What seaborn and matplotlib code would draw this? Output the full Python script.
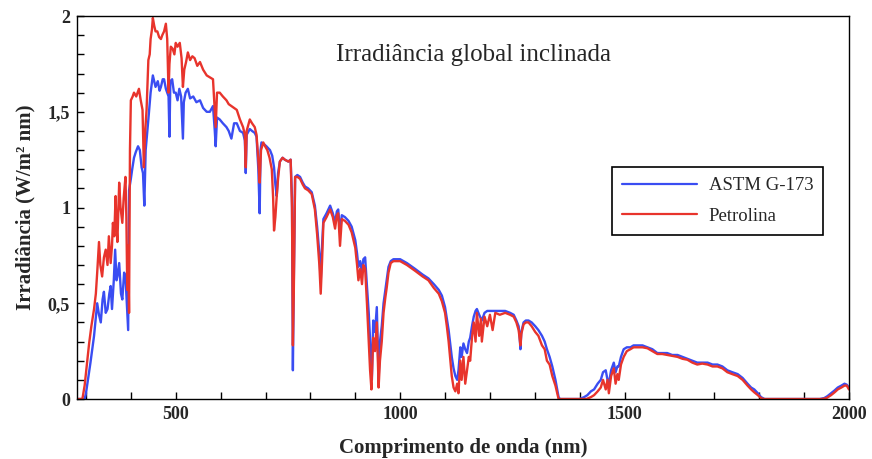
import matplotlib
matplotlib.use("Agg")
import matplotlib.pyplot as plt
import seaborn as sns
import pandas as pd
from matplotlib.ticker import MultipleLocator, FuncFormatter
from matplotlib.lines import Line2D

# ---------------- data (wavelength nm, irradiance W/m2 nm) ----------------
astm_points = [
    (280, 0), (297, 0), (300, 0.03), (310, 0.19), (318, 0.33), (325, 0.50), (329, 0.44), (333, 0.40),
    (337, 0.52), (340, 0.56), (344, 0.45), (348, 0.47), (352, 0.55), (355, 0.59), (358, 0.47), (362, 0.62),
    (365, 0.78), (368, 0.62), (370, 0.64), (374, 0.71), (378, 0.55), (381, 0.52), (385, 0.66), (388, 0.64),
    (392, 0.45), (394, 0.36), (396, 1.09), (400, 1.15), (403, 1.20), (407, 1.26), (411, 1.29), (416, 1.32),
    (420, 1.30), (424, 1.21), (427, 1.18), (430, 1.01), (433, 1.30), (436, 1.38), (439, 1.46), (444, 1.60),
    (449, 1.69), (452, 1.66), (455, 1.63), (460, 1.66), (464, 1.61), (467, 1.63), (471, 1.67), (474, 1.67),
    (478, 1.62), (481, 1.60), (484, 1.58), (486, 1.37), (488, 1.66), (492, 1.67), (496, 1.60), (500, 1.60),
    (504, 1.56), (508, 1.62), (512, 1.58), (516, 1.36), (518, 1.55), (522, 1.60), (527, 1.62), (532, 1.57),
    (539, 1.58), (546, 1.55), (554, 1.56), (561, 1.52), (569, 1.50), (576, 1.50), (583, 1.53), (587, 1.40),
    (589, 1.32), (592, 1.47), (598, 1.46), (605, 1.44), (613, 1.42), (618, 1.40), (624, 1.36), (630, 1.44),
    (636, 1.44), (643, 1.40), (650, 1.39), (654, 1.35), (656, 1.18), (658, 1.38), (665, 1.41), (670, 1.40),
    (676, 1.39), (680, 1.37), (684, 1.20), (687, 0.97), (689, 1.30), (691, 1.34), (697, 1.33), (702, 1.32),
    (710, 1.30), (715, 1.27), (719, 1.21), (722, 1.12), (725, 1.06), (728, 1.18), (732, 1.24), (738, 1.26),
    (743, 1.25), (751, 1.24), (756, 1.25), (759, 1.05), (761, 0.15), (763, 0.60), (766, 1.16), (771, 1.17),
    (777, 1.16), (783, 1.13), (788, 1.11), (795, 1.10), (803, 1.08), (810, 1.01), (815, 0.90), (820, 0.76),
    (823, 0.61), (826, 0.80), (829, 0.94), (836, 0.97), (844, 1.01), (850, 0.97), (855, 0.92), (859, 0.98),
    (862, 0.99), (866, 0.87), (870, 0.96), (877, 0.95), (885, 0.93), (892, 0.90), (900, 0.83), (904, 0.76),
    (907, 0.69), (911, 0.72), (915, 0.66), (918, 0.73), (922, 0.74), (926, 0.59), (930, 0.45), (933, 0.31),
    (937, 0.10), (940, 0.41), (944, 0.35), (948, 0.48), (952, 0.10), (955, 0.30), (959, 0.38), (963, 0.50),
    (967, 0.57), (970, 0.62), (974, 0.69), (979, 0.72), (985, 0.73), (1000, 0.73), (1015, 0.71), (1033, 0.68),
    (1050, 0.65), (1063, 0.63), (1075, 0.60), (1086, 0.57), (1093, 0.54), (1100, 0.48), (1104, 0.42),
    (1108, 0.36), (1112, 0.28), (1115, 0.22), (1119, 0.16), (1123, 0.12), (1127, 0.10), (1130, 0.15),
    (1134, 0.27), (1137, 0.22), (1141, 0.29), (1145, 0.26), (1149, 0.24), (1153, 0.30), (1156, 0.32),
    (1160, 0.38), (1164, 0.43), (1168, 0.46), (1171, 0.47), (1176, 0.44), (1182, 0.41), (1188, 0.45),
    (1194, 0.46), (1203, 0.46), (1212, 0.46), (1222, 0.46), (1234, 0.46), (1245, 0.45), (1253, 0.44),
    (1259, 0.41), (1264, 0.38), (1266, 0.33), (1268, 0.26), (1270, 0.35), (1275, 0.40), (1280, 0.41),
    (1286, 0.41), (1293, 0.40), (1301, 0.38), (1308, 0.36), (1316, 0.33), (1322, 0.30), (1327, 0.26),
    (1333, 0.22), (1339, 0.17), (1346, 0.10), (1350, 0.05), (1353, 0.01), (1356, 0), (1400, 0), (1410, 0.01),
    (1417, 0.02), (1425, 0.04), (1432, 0.05), (1440, 0.08), (1447, 0.10), (1452, 0.14), (1458, 0.15),
    (1462, 0.10), (1465, 0.08), (1470, 0.15), (1476, 0.19), (1480, 0.14), (1484, 0.17), (1487, 0.17),
    (1492, 0.22), (1498, 0.26), (1505, 0.27), (1513, 0.27), (1520, 0.28), (1528, 0.28), (1540, 0.28),
    (1551, 0.27), (1562, 0.26), (1573, 0.24), (1584, 0.24), (1595, 0.24), (1606, 0.23), (1618, 0.23),
    (1629, 0.22), (1640, 0.21), (1651, 0.20), (1662, 0.19), (1673, 0.19), (1685, 0.19), (1696, 0.18),
    (1707, 0.18), (1718, 0.17), (1729, 0.15), (1740, 0.14), (1752, 0.13), (1763, 0.11), (1774, 0.08),
    (1782, 0.06), (1789, 0.05), (1797, 0.03), (1804, 0.01), (1812, 0), (1935, 0), (1945, 0.005),
    (1952, 0.015), (1960, 0.03), (1968, 0.045), (1975, 0.06), (1983, 0.07), (1990, 0.08), (1995, 0.075),
    (2000, 0.06),
]

petrolina_points = [
    (280, 0), (292, 0), (297, 0.07), (302, 0.18), (307, 0.29), (312, 0.38), (318, 0.47), (322, 0.55),
    (325, 0.66), (329, 0.82), (332, 0.70), (336, 0.64), (340, 0.74), (344, 0.78), (348, 0.70), (351, 0.85),
    (355, 0.71), (358, 0.80), (360, 0.92), (363, 0.85), (366, 1.06), (368, 0.90), (370, 0.82), (372, 0.98),
    (374, 1.13), (377, 1.00), (381, 0.92), (384, 1.05), (388, 1.16), (390, 0.95), (392, 0.57), (394, 0.80),
    (396, 0.45), (398, 1.30), (400, 1.56), (404, 1.58), (407, 1.60), (412, 1.58), (418, 1.62), (422, 1.56),
    (426, 1.51), (429, 1.21), (432, 1.40), (435, 1.51), (439, 1.77), (442, 1.80), (444, 1.88), (447, 1.93),
    (449, 1.99), (452, 1.95), (455, 1.92), (459, 1.92), (463, 1.89), (467, 1.88), (470, 1.90), (474, 1.92),
    (478, 1.96), (481, 1.88), (484, 1.60), (486, 1.75), (489, 1.84), (493, 1.83), (497, 1.80), (500, 1.86),
    (504, 1.84), (509, 1.86), (513, 1.78), (516, 1.63), (519, 1.72), (523, 1.76), (527, 1.81), (532, 1.77),
    (537, 1.79), (542, 1.78), (548, 1.74), (554, 1.76), (561, 1.72), (569, 1.69), (576, 1.68), (583, 1.67),
    (587, 1.50), (589, 1.42), (592, 1.60), (598, 1.60), (605, 1.58), (613, 1.56), (618, 1.54), (624, 1.53),
    (630, 1.52), (636, 1.51), (643, 1.46), (650, 1.42), (654, 1.38), (656, 1.21), (658, 1.40), (665, 1.46),
    (670, 1.44), (676, 1.42), (680, 1.38), (684, 1.25), (687, 1.13), (690, 1.30), (695, 1.34), (699, 1.32),
    (704, 1.30), (709, 1.26), (714, 1.20), (717, 1.05), (719, 0.88), (722, 0.95), (725, 1.06), (728, 1.15),
    (732, 1.24), (738, 1.26), (743, 1.25), (751, 1.24), (756, 1.25), (759, 1.00), (761, 0.28), (763, 0.55),
    (766, 1.16), (771, 1.16), (777, 1.15), (783, 1.12), (788, 1.10), (795, 1.09), (803, 1.07), (810, 0.99),
    (815, 0.86), (820, 0.70), (823, 0.55), (826, 0.72), (829, 0.92), (836, 0.95), (844, 0.99), (850, 0.95),
    (855, 0.89), (859, 0.96), (862, 0.97), (866, 0.80), (870, 0.94), (877, 0.93), (885, 0.91), (892, 0.87),
    (900, 0.79), (904, 0.70), (907, 0.62), (911, 0.68), (915, 0.60), (918, 0.70), (922, 0.68), (926, 0.50),
    (930, 0.30), (933, 0.15), (936, 0.05), (940, 0.32), (944, 0.25), (948, 0.40), (952, 0.06), (955, 0.20),
    (959, 0.30), (963, 0.45), (967, 0.53), (970, 0.58), (974, 0.66), (979, 0.71), (985, 0.72), (1000, 0.72),
    (1015, 0.70), (1033, 0.67), (1050, 0.64), (1063, 0.62), (1075, 0.58), (1086, 0.55), (1093, 0.51),
    (1100, 0.45), (1104, 0.38), (1108, 0.30), (1112, 0.20), (1115, 0.12), (1119, 0.06), (1123, 0.04),
    (1127, 0.08), (1130, 0.03), (1134, 0.20), (1137, 0.10), (1141, 0.22), (1145, 0.08), (1149, 0.15),
    (1153, 0.22), (1156, 0.20), (1160, 0.32), (1164, 0.40), (1168, 0.30), (1171, 0.45), (1176, 0.33),
    (1180, 0.42), (1182, 0.30), (1188, 0.43), (1194, 0.38), (1200, 0.44), (1206, 0.36), (1212, 0.45),
    (1222, 0.44), (1234, 0.45), (1245, 0.44), (1253, 0.43), (1259, 0.40), (1264, 0.36), (1266, 0.32),
    (1268, 0.28), (1270, 0.34), (1275, 0.39), (1280, 0.40), (1286, 0.40), (1293, 0.38), (1301, 0.35),
    (1308, 0.33), (1316, 0.28), (1322, 0.26), (1327, 0.20), (1333, 0.18), (1339, 0.12), (1346, 0.07),
    (1350, 0.03), (1353, 0.0), (1400, 0), (1415, 0), (1425, 0.01), (1432, 0.02), (1440, 0.04), (1447, 0.06),
    (1452, 0.10), (1458, 0.05), (1462, 0.10), (1465, 0.03), (1470, 0.12), (1476, 0.16), (1480, 0.08),
    (1484, 0.13), (1487, 0.10), (1492, 0.18), (1498, 0.22), (1505, 0.25), (1513, 0.26), (1520, 0.27),
    (1528, 0.27), (1540, 0.27), (1551, 0.265), (1562, 0.25), (1573, 0.235), (1584, 0.235), (1595, 0.23),
    (1606, 0.225), (1618, 0.22), (1629, 0.21), (1640, 0.205), (1651, 0.19), (1662, 0.18), (1673, 0.185),
    (1685, 0.18), (1696, 0.17), (1707, 0.17), (1718, 0.16), (1729, 0.14), (1740, 0.13), (1752, 0.12),
    (1763, 0.10), (1774, 0.07), (1782, 0.05), (1789, 0.035), (1797, 0.02), (1804, 0.005), (1810, 0),
    (1940, 0), (1950, 0.005), (1960, 0.02), (1968, 0.035), (1975, 0.05), (1983, 0.06), (1990, 0.07),
    (1995, 0.07), (2000, 0.05),
]

series_names = ["ASTM G-173", "Petrolina"]
series_colors = ["#3a4df2", "#e8342c"]
x_major_labels = [500, 1000, 1500, 2000]
y_tick_labels = {0.0: "0", 0.5: "0,5", 1.0: "1", 1.5: "1,5", 2.0: "2"}

# ---------------- build table ----------------
frames = []
for name, pts in zip(series_names, [astm_points, petrolina_points]):
    d = pd.DataFrame(pts, columns=["nm", "irr"])
    d["serie"] = name
    frames.append(d)
df = pd.concat(frames, ignore_index=True)

sns.set_theme(style="ticks")
plt.rcParams["font.family"] = ["Liberation Serif", "DejaVu Serif"]
plt.rcParams["font.weight"] = "bold"

fig = plt.figure(figsize=(8.72, 4.59), dpi=100)
ax = fig.add_axes([0.0883, 0.1307, 0.8853, 0.8343])

sns.lineplot(data=df, x="nm", y="irr", hue="serie", hue_order=series_names,
             palette=dict(zip(series_names, series_colors)), estimator=None,
             sort=False, linewidth=1.7, ax=ax, legend=False)

ax.set_xlim(280, 2000)
ax.set_ylim(0, 2)
ax.xaxis.set_major_locator(MultipleLocator(100))
ax.xaxis.set_major_formatter(FuncFormatter(
    lambda v, p: f"{int(round(v))}" if int(round(v)) in x_major_labels else ""))
ax.yaxis.set_major_locator(MultipleLocator(0.1))
ax.yaxis.set_major_formatter(FuncFormatter(
    lambda v, p: y_tick_labels.get(round(v, 2), "")))
ax.tick_params(axis="both", direction="in", length=5, width=1, color="black",
               labelsize=13, top=False, right=False, pad=5)
for s in ax.spines.values():
    s.set_color("black")
    s.set_linewidth(1.0)

ax.set_xlabel("Comprimento de onda (nm)", fontsize=15, fontweight="bold", labelpad=11)
ax.set_ylabel("Irradiância (W/m² nm)", fontsize=15, fontweight="bold", labelpad=9)

ax.text(0.514, 0.898, "Irradiância global inclinada", transform=ax.transAxes,
        ha="center", va="center", fontsize=18, fontweight="normal")

handles = [Line2D([], [], color=c, lw=1.6) for c in series_colors]
leg = ax.legend(handles, series_names, loc="upper left", bbox_to_anchor=(0.693, 0.606),
                borderaxespad=0, fancybox=False, framealpha=1, edgecolor="black",
                handlelength=4.0, handletextpad=0.6, labelspacing=0.7, borderpad=0.55,
                prop={"family": "Liberation Serif", "size": 13.5, "weight": "normal"})
leg.get_frame().set_linewidth(1.2)

fig.savefig("out.png", dpi=100)
